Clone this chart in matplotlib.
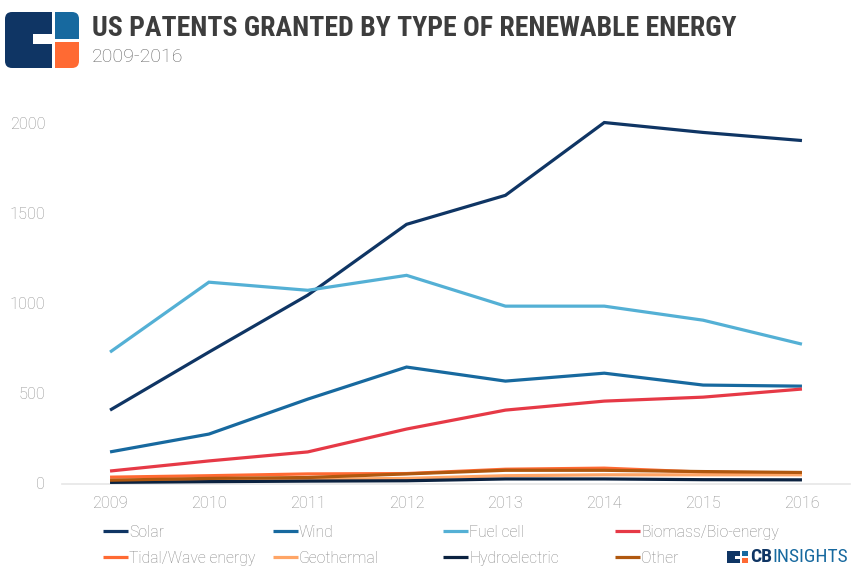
import matplotlib
matplotlib.use("Agg")
import matplotlib.pyplot as plt
from matplotlib.patches import FancyBboxPatch, Rectangle
from matplotlib.lines import Line2D

years = [2009, 2010, 2011, 2012, 2013, 2014, 2015, 2016]
solar = [404, 726, 1042, 1435, 1596, 2000, 1945, 1900]
wind = [172, 271, 465, 643, 565, 609, 543, 537]
fuel_cell = [726, 1114, 1069, 1152, 981, 981, 903, 770]
biomass = [66, 122, 172, 299, 404, 454, 476, 521]
tidal = [32, 40, 50, 52, 76, 82, 60, 55]
geothermal = [10, 15, 20, 25, 40, 45, 45, 45]
hydro = [3, 7, 10, 12, 22, 22, 18, 17]
other = [15, 25, 30, 50, 70, 70, 63, 58]

series_names = ["Solar", "Wind", "Fuel cell", "Biomass/Bio-energy",
                "Tidal/Wave energy", "Geothermal", "Hydroelectric", "Other"]
series_values = [solar, wind, fuel_cell, biomass, tidal, geothermal, hydro, other]
series_colors = ["#0f3564", "#17699f", "#54b0d5", "#e63946",
                 "#ff6a33", "#ffa566", "#0b2240", "#b0580f"]

y_ticks = [0, 500, 1000, 1500, 2000]

W, H = 863, 578
fig = plt.figure(figsize=(W / 100, H / 100), dpi=100)
fig.patch.set_facecolor("white")

def fx(px):
    return px / W

def fy(py):
    return 1 - py / H

ax = fig.add_axes([fx(62), fy(484), fx(850) - fx(62), fy(100) - fy(484)])
for name, vals, col in zip(series_names, series_values, series_colors):
    ax.plot(years, vals, color=col, lw=2.3, solid_capstyle="butt",
            solid_joinstyle="miter", label=name, zorder=3)

ax.set_xlim(2008.514, 2016.486)
ax.set_ylim(-6, 2125)
ax.set_xticks(years)
ax.set_yticks(y_ticks)
ax.set_xticklabels([str(y) for y in years])
for s in ["top", "right", "left"]:
    ax.spines[s].set_visible(False)
ax.spines["bottom"].set_color("#e6e6e6")
ax.spines["bottom"].set_linewidth(1.2)
ax.tick_params(axis="both", length=0, labelsize=11.8, labelcolor="#8e8e8e")
ax.tick_params(axis="y", pad=12)
ax.tick_params(axis="x", pad=9)
for lab in ax.get_xticklabels() + ax.get_yticklabels():
    lab.set_fontfamily(["Roboto", "DejaVu Sans"])
    lab.set_fontweight("light")

# Title and subtitle
fig.text(fx(92), fy(28), "US PATENTS GRANTED BY TYPE OF RENEWABLE ENERGY",
         family=["Roboto Condensed", "Roboto", "DejaVu Sans"],
         fontweight="bold", fontsize=20, color="#3d3d3d", va="center", ha="left")
fig.text(fx(92), fy(57), "2009-2016", family=["Roboto", "DejaVu Sans"],
         fontweight="light", fontsize=14, color="#666666", va="center", ha="left")

# Logo
def rrect(x0, y0, x1, y1, color, r=5):
    p = FancyBboxPatch((fx(x0), fy(y1)), fx(x1) - fx(x0), fy(y0) - fy(y1),
                       boxstyle="round,pad=0,rounding_size=%f" % fx(r),
                       transform=fig.transFigure, facecolor=color, edgecolor="none",
                       mutation_aspect=W / H)
    fig.patches.append(p)

def srect(x0, y0, x1, y1, color):
    p = Rectangle((fx(x0), fy(y1)), fx(x1) - fx(x0), fy(y0) - fy(y1),
                  transform=fig.transFigure, facecolor=color, edgecolor="none")
    fig.patches.append(p)

navy = "#0f3564"
rrect(5, 12, 52, 68, navy, r=7)
srect(35, 12, 52, 68, navy)
srect(33, 34, 53, 44, "white")
rrect(55, 12, 79, 39, "#17699f", r=7)
srect(55, 12, 65, 39, "#17699f")
srect(55, 25, 79, 39, "#17699f")
rrect(55, 42, 79, 68, "#ff6a33", r=7)
srect(55, 42, 65, 68, "#ff6a33")
srect(55, 42, 79, 55, "#ff6a33")

# Legend
col_x = [103, 273, 443, 615]
row_y = [531, 557]
for i, (name, col) in enumerate(zip(series_names, series_colors)):
    x0 = col_x[i % 4]
    y0 = row_y[i // 4]
    fig.lines.append(Line2D([fx(x0), fx(x0 + 25)], [fy(y0), fy(y0)],
                            transform=fig.transFigure, color=col, lw=2.3,
                            solid_capstyle="butt"))
    fig.text(fx(x0 + 26), fy(y0), name, family=["Roboto", "DejaVu Sans"],
             fontweight="light", fontsize=11.3, color="#888888",
             va="center_baseline", ha="left")

# CB Insights small logo
srect(727, 551, 740, 563, navy)
srect(735, 556, 741, 558.5, "white")
srect(742, 551, 748, 556, "#17699f")
srect(742, 558, 748, 563, "#ff6a33")
t1 = fig.text(fx(750), fy(557), "CB", family=["Roboto Condensed", "Roboto", "DejaVu Sans"],
              fontweight="bold", fontsize=14, color=navy, va="center", ha="left")
fig.canvas.draw()
bb = t1.get_window_extent()
fig.text(bb.x1 / W, fy(557), "INSIGHTS", family=["Roboto Condensed", "Roboto", "DejaVu Sans"],
         fontweight="normal", fontsize=14, color="#17699f", va="center", ha="left")

fig.savefig("out.png", dpi=100, facecolor="white")
